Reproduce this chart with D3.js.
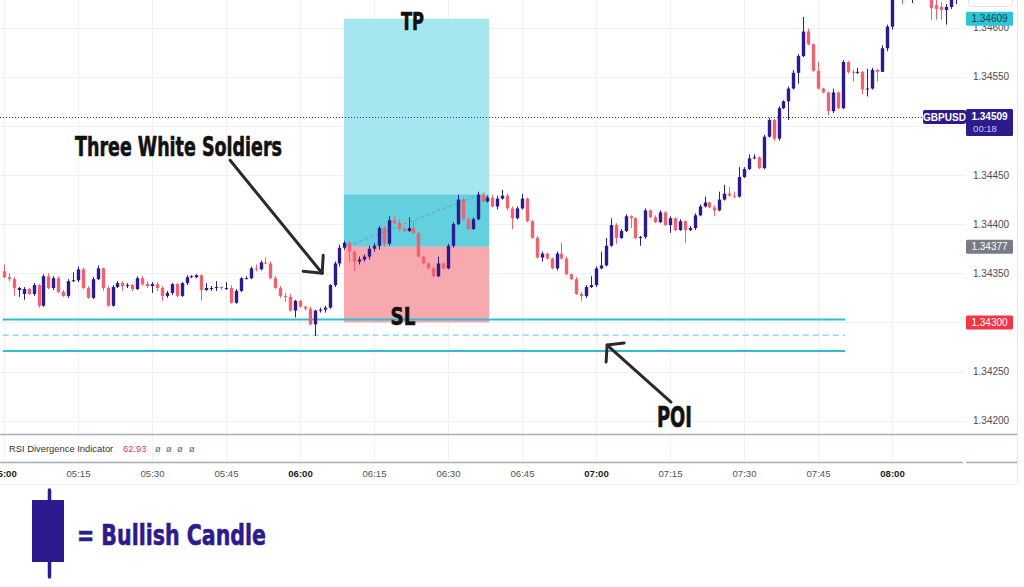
<!DOCTYPE html>
<html>
<head>
<meta charset="utf-8">
<script src="https://cdn.jsdelivr.net/npm/d3@7"></script>
<style>
  body { margin: 0; background: #fff; }
  svg { display: block; }
</style>
</head>
<body>
<div id="chart"></div>
<script>
// GBPUSD 1 minute candles, first one is 05:00  [open, high, low, close]
var firstCandle = "05:00:00";
var candles = [
  [1.34352,1.34359,1.34345,1.34346],[1.34346,1.34350,1.34342,1.34344],[1.34344,1.34346,1.34327,1.34335],[1.34333,1.34336,1.34326,1.34335],
  [1.34329,1.34336,1.34323,1.34334],[1.34334,1.34335,1.34328,1.34329],[1.34329,1.34340,1.34327,1.34338],[1.34338,1.34339,1.34315,1.34317],
  [1.34317,1.34349,1.34316,1.34347],[1.34347,1.34350,1.34334,1.34335],[1.34335,1.34347,1.34333,1.34345],[1.34345,1.34347,1.34330,1.34331],
  [1.34331,1.34333,1.34326,1.34327],[1.34327,1.34344,1.34325,1.34342],[1.34342,1.34351,1.34341,1.34343],[1.34343,1.34357,1.34341,1.34354],
  [1.34354,1.34356,1.34334,1.34335],[1.34335,1.34337,1.34324,1.34325],[1.34325,1.34346,1.34324,1.34344],[1.34344,1.34358,1.34343,1.34355],
  [1.34355,1.34356,1.34332,1.34335],[1.34335,1.34337,1.34316,1.34317],[1.34317,1.34338,1.34316,1.34336],[1.34336,1.34342,1.34335,1.34340],
  [1.34340,1.34342,1.34332,1.34337],[1.34337,1.34340,1.34335,1.34338],[1.34338,1.34339,1.34332,1.34334],[1.34334,1.34347,1.34333,1.34345],
  [1.34345,1.34347,1.34337,1.34339],[1.34339,1.34342,1.34335,1.34337],[1.34337,1.34341,1.34330,1.34339],[1.34339,1.34341,1.34332,1.34335],
  [1.34335,1.34337,1.34322,1.34327],[1.34327,1.34332,1.34325,1.34330],[1.34330,1.34340,1.34328,1.34339],[1.34339,1.34340,1.34326,1.34327],
  [1.34327,1.34341,1.34326,1.34340],[1.34340,1.34348,1.34338,1.34346],[1.34346,1.34348,1.34345,1.34347],[1.34346,1.34349,1.34345,1.34348],
  [1.34348,1.34349,1.34322,1.34333],[1.34333,1.34340,1.34332,1.34335],[1.34335,1.34337,1.34332,1.34335],[1.34335,1.34342,1.34332,1.34336],
  [1.34336,1.34337,1.34333,1.34335],[1.34335,1.34341,1.34333,1.34335],[1.34335,1.34338,1.34319,1.34320],[1.34320,1.34334,1.34319,1.34332],
  [1.34332,1.34346,1.34331,1.34345],[1.34345,1.34347,1.34344,1.34345],[1.34345,1.34357,1.34344,1.34355],[1.34355,1.34359,1.34352,1.34354],
  [1.34354,1.34363,1.34353,1.34361],[1.34361,1.34366,1.34359,1.34360],[1.34360,1.34362,1.34344,1.34345],[1.34345,1.34347,1.34334,1.34335],
  [1.34335,1.34337,1.34325,1.34327],[1.34327,1.34330,1.34321,1.34326],[1.34326,1.34329,1.34311,1.34312],[1.34312,1.34323,1.34305,1.34322],
  [1.34322,1.34323,1.34315,1.34316],[1.34316,1.34317,1.34312,1.34314],[1.34314,1.34316,1.34297,1.34298],[1.34298,1.34313,1.34286,1.34312],
  [1.34312,1.34315,1.34310,1.34313],[1.34313,1.34317,1.34310,1.34315],[1.34315,1.34339,1.34314,1.34338],[1.34338,1.34362,1.34336,1.34360],
  [1.34360,1.34379,1.34357,1.34376],[1.34376,1.34383,1.34374,1.34381],[1.34381,1.34383,1.34362,1.34372],[1.34372,1.34373,1.34352,1.34362],
  [1.34362,1.34367,1.34359,1.34364],[1.34364,1.34369,1.34362,1.34367],[1.34367,1.34378,1.34364,1.34375],[1.34375,1.34381,1.34372,1.34378],
  [1.34378,1.34398,1.34374,1.34396],[1.34396,1.34398,1.34377,1.34380],[1.34380,1.34408,1.34378,1.34404],[1.34404,1.34408,1.34400,1.34401],
  [1.34401,1.34405,1.34393,1.34395],[1.34395,1.34397,1.34392,1.34393],[1.34393,1.34407,1.34392,1.34396],[1.34396,1.34403,1.34390,1.34391],
  [1.34391,1.34392,1.34366,1.34367],[1.34367,1.34368,1.34359,1.34360],[1.34360,1.34361,1.34354,1.34355],[1.34355,1.34357,1.34346,1.34347],
  [1.34347,1.34367,1.34346,1.34360],[1.34360,1.34361,1.34354,1.34355],[1.34355,1.34380,1.34354,1.34378],[1.34378,1.34402,1.34376,1.34400],
  [1.34400,1.34430,1.34399,1.34425],[1.34425,1.34427,1.34404,1.34405],[1.34405,1.34406,1.34394,1.34395],[1.34395,1.34407,1.34394,1.34405],
  [1.34405,1.34433,1.34404,1.34430],[1.34430,1.34431,1.34422,1.34423],[1.34423,1.34429,1.34422,1.34427],[1.34427,1.34430,1.34417,1.34418],
  [1.34418,1.34429,1.34415,1.34426],[1.34426,1.34435,1.34425,1.34429],[1.34429,1.34431,1.34414,1.34416],[1.34416,1.34418,1.34395,1.34406],
  [1.34406,1.34418,1.34405,1.34416],[1.34416,1.34431,1.34415,1.34426],[1.34426,1.34427,1.34402,1.34403],[1.34403,1.34404,1.34385,1.34386],
  [1.34386,1.34388,1.34365,1.34366],[1.34366,1.34372,1.34362,1.34370],[1.34370,1.34371,1.34364,1.34365],[1.34365,1.34366,1.34354,1.34355],
  [1.34355,1.34372,1.34353,1.34370],[1.34370,1.34381,1.34364,1.34365],[1.34365,1.34367,1.34348,1.34349],[1.34349,1.34350,1.34343,1.34344],
  [1.34344,1.34346,1.34328,1.34329],[1.34329,1.34331,1.34322,1.34327],[1.34327,1.34338,1.34325,1.34336],[1.34336,1.34347,1.34335,1.34338],
  [1.34338,1.34357,1.34336,1.34355],[1.34355,1.34372,1.34354,1.34358],[1.34358,1.34386,1.34357,1.34378],[1.34378,1.34406,1.34377,1.34399],
  [1.34399,1.34401,1.34380,1.34386],[1.34386,1.34395,1.34385,1.34393],[1.34393,1.34410,1.34392,1.34408],[1.34408,1.34409,1.34396,1.34406],
  [1.34406,1.34407,1.34385,1.34386],[1.34386,1.34388,1.34378,1.34387],[1.34387,1.34416,1.34385,1.34414],[1.34414,1.34415,1.34406,1.34407],
  [1.34407,1.34409,1.34401,1.34402],[1.34402,1.34414,1.34401,1.34412],[1.34412,1.34413,1.34398,1.34399],[1.34399,1.34408,1.34391,1.34406],
  [1.34406,1.34407,1.34393,1.34394],[1.34394,1.34405,1.34393,1.34403],[1.34403,1.34404,1.34381,1.34394],[1.34394,1.34398,1.34393,1.34396],
  [1.34396,1.34411,1.34394,1.34409],[1.34409,1.34420,1.34408,1.34418],[1.34418,1.34428,1.34417,1.34422],[1.34422,1.34423,1.34416,1.34417],
  [1.34417,1.34419,1.34408,1.34414],[1.34414,1.34433,1.34413,1.34425],[1.34425,1.34440,1.34424,1.34431],[1.34431,1.34438,1.34428,1.34429],
  [1.34429,1.34433,1.34426,1.34428],[1.34428,1.34458,1.34427,1.34448],[1.34448,1.34458,1.34447,1.34456],[1.34456,1.34471,1.34455,1.34467],
  [1.34467,1.34471,1.34466,1.34468],[1.34468,1.34469,1.34456,1.34457],[1.34457,1.34491,1.34456,1.34489],[1.34489,1.34508,1.34488,1.34506],
  [1.34506,1.34507,1.34485,1.34487],[1.34487,1.34520,1.34485,1.34518],[1.34518,1.34526,1.34517,1.34525],[1.34525,1.34540,1.34506,1.34538],
  [1.34538,1.34557,1.34537,1.34554],[1.34554,1.34573,1.34543,1.34571],[1.34571,1.34611,1.34570,1.34596],[1.34596,1.34599,1.34582,1.34583],
  [1.34583,1.34584,1.34555,1.34556],[1.34556,1.34565,1.34537,1.34538],[1.34538,1.34539,1.34533,1.34534],[1.34534,1.34535,1.34511,1.34515],
  [1.34515,1.34538,1.34513,1.34534],[1.34534,1.34535,1.34517,1.34518],[1.34518,1.34567,1.34517,1.34565],[1.34565,1.34566,1.34553,1.34555],
  [1.34555,1.34557,1.34545,1.34554],[1.34554,1.34559,1.34553,1.34555],[1.34555,1.34556,1.34532,1.34537],[1.34537,1.34558,1.34530,1.34538],
  [1.34538,1.34559,1.34537,1.34557],[1.34557,1.34558,1.34545,1.34555],[1.34555,1.34582,1.34555,1.34579],[1.34579,1.34603,1.34576,1.34601],
  [1.34601,1.34640,1.34598,1.34632],[1.34632,1.34646,1.34629,1.34641],[1.34641,1.34650,1.34624,1.34636],[1.34636,1.34648,1.34630,1.34645],
  [1.34645,1.34655,1.34625,1.34650],[1.34650,1.34662,1.34640,1.34657],[1.34657,1.34664,1.34645,1.34648],[1.34648,1.34655,1.34632,1.34640],
  [1.34640,1.34645,1.34608,1.34620],[1.34623,1.34630,1.34608,1.34619],[1.34621,1.34626,1.34608,1.34618],[1.34618,1.34624,1.34603,1.34621],
  [1.34621,1.34640,1.34619,1.34632],[1.34632,1.34640,1.34624,1.34636]
];

var priceTicks = [1.342, 1.3425, 1.343, 1.3435, 1.344, 1.3445, 1.345, 1.3455, 1.346];
var timeFrom = "05:00:00", timeTo = "08:00:00";

// long position tool
var entryPrice = 1.34377, tpPrice = 1.34609, slPrice = 1.34300, reachedPrice = 1.3443;
var positionTimes = ["06:08:55", "06:38:20"];
var pathLine = [["06:09:45", 1.34378], ["06:37:30", 1.34432]];

// point of interest zone (upper, middle dashed, lower)
var poiLevels = [1.34303, 1.34287, 1.34271];
var poiTimes = ["04:59:45", "07:50:30"];

var lastPrice = 1.34509, countdown = "00:18", symbol = "GBPUSD";
var rsiName = "RSI Divergence Indicator", rsiValue = "62.93", rsiEmpty = ["\u00f8", "\u00f8", "\u00f8", "\u00f8"];

// arrows [tail, tip] in time / price
var soldiersArrow = [["05:45:50", 1.34465], ["06:04:30", 1.34350]];
var poiArrow = [["07:15:12", 1.34219], ["07:02:15", 1.34277]];

var bullColor = "#2d1b8e", bearColor = "#ef6371";
var annoFont = "'Liberation Sans Narrow','Arial Narrow','DejaVu Sans Condensed',sans-serif";
var axisFont = "'Liberation Sans',Arial,sans-serif";

var width = 1024, height = 587;
var plotRight = 965, paneBottom = 434, axisRight = 1017;

var svg = d3.select("#chart").append("svg")
    .attr("width", width)
    .attr("height", height);

var parseTime = d3.timeParse("%H:%M:%S");
var t0 = parseTime(firstCandle);

var x = d3.scaleTime()
    .domain([parseTime(timeFrom), parseTime(timeTo)])
    .range([4, 892]);

var y = d3.scaleLinear()
    .domain([1.342, 1.346])
    .range([420.7, 27.6]);

var bodyW = 3.4;

svg.append("defs").append("clipPath").attr("id", "plot-clip")
  .append("rect").attr("x", 0).attr("y", 0).attr("width", plotRight).attr("height", paneBottom);

// grid
var timeTicks = d3.timeMinute.every(15).range(parseTime(timeFrom), d3.timeMinute.offset(parseTime(timeTo), 1));

svg.append("g").selectAll("line")
  .data(priceTicks)
  .enter().append("line")
    .attr("x1", 0).attr("x2", plotRight)
    .attr("y1", function(d){ return Math.round(y(d)) + 0.5; })
    .attr("y2", function(d){ return Math.round(y(d)) + 0.5; })
    .attr("stroke", "#f0f1f3");

svg.append("g").selectAll("line")
  .data(timeTicks)
  .enter().append("line")
    .attr("x1", function(d){ return Math.round(x(d)) + 0.5; })
    .attr("x2", function(d){ return Math.round(x(d)) + 0.5; })
    .attr("y1", 0).attr("y2", 462)
    .attr("stroke", "#f0f1f3");

var plot = svg.append("g").attr("clip-path", "url(#plot-clip)");

// position box
var bx0 = x(parseTime(positionTimes[0])), bx1 = x(parseTime(positionTimes[1]));
plot.append("rect")
    .attr("x", bx0).attr("width", bx1 - bx0)
    .attr("y", y(tpPrice)).attr("height", y(entryPrice) - y(tpPrice))
    .attr("fill", "#a6e6ef");
plot.append("rect")
    .attr("x", bx0).attr("width", bx1 - bx0)
    .attr("y", y(reachedPrice)).attr("height", y(entryPrice) - y(reachedPrice))
    .attr("fill", "#62d0df");
plot.append("rect")
    .attr("x", bx0).attr("width", bx1 - bx0)
    .attr("y", y(entryPrice)).attr("height", y(slPrice) - y(entryPrice))
    .attr("fill", "#f8a9b0");

plot.append("line")
    .attr("x1", x(parseTime(pathLine[0][0]))).attr("y1", y(pathLine[0][1]))
    .attr("x2", x(parseTime(pathLine[1][0]))).attr("y2", y(pathLine[1][1]))
    .attr("stroke", "#7d8aa3").attr("stroke-width", 1)
    .attr("stroke-dasharray", "3,3").attr("opacity", 0.8);

// last price dotted line
plot.append("line")
    .attr("x1", 0).attr("x2", 923)
    .attr("y1", Math.round(y(lastPrice)) + 0.5).attr("y2", Math.round(y(lastPrice)) + 0.5)
    .attr("stroke", "#3a2a9c").attr("stroke-dasharray", "1,2");

// POI zone
plot.selectAll(".poi")
  .data(poiLevels)
  .enter().append("line")
    .attr("class", "poi")
    .attr("x1", x(parseTime(poiTimes[0]))).attr("x2", x(parseTime(poiTimes[1])))
    .attr("y1", function(d){ return y(d); })
    .attr("y2", function(d){ return y(d); })
    .attr("stroke", function(d, i){ return i == 1 ? "#7fd4df" : "#2fbfd0"; })
    .attr("stroke-width", function(d, i){ return i == 1 ? 1.3 : 2; })
    .attr("stroke-dasharray", function(d, i){ return i == 1 ? "6,4" : null; });

// candles
var candle = plot.append("g").selectAll("g")
  .data(candles)
  .enter().append("g")
    .attr("fill", function(d){ return d[3] >= d[0] ? bullColor : bearColor; })
    .attr("stroke", function(d){ return d[3] >= d[0] ? bullColor : bearColor; });

function cx(i) { return Math.round(x(d3.timeMinute.offset(t0, i))) + 0.5; }

candle.append("line")
    .attr("x1", function(d, i){ return cx(i); })
    .attr("x2", function(d, i){ return cx(i); })
    .attr("y1", function(d){ return y(d[1]); })
    .attr("y2", function(d){ return y(d[2]); })
    .attr("stroke-width", 1);

candle.append("rect")
    .attr("stroke", "none")
    .attr("x", function(d, i){ return cx(i) - bodyW / 2; })
    .attr("width", bodyW)
    .attr("y", function(d){ return y(Math.max(d[0], d[3])); })
    .attr("height", function(d){ return Math.max(1, Math.abs(y(d[0]) - y(d[3]))); });

// pane separators and frame
svg.append("line").attr("x1", 0).attr("x2", axisRight).attr("y1", 434.5).attr("y2", 434.5)
    .attr("stroke", "#a9acb3").attr("stroke-width", 1.5);
svg.append("line").attr("x1", 0).attr("x2", 963).attr("y1", 462.5).attr("y2", 462.5)
    .attr("stroke", "#a9acb3").attr("stroke-width", 1.5);
svg.append("line").attr("x1", 966).attr("x2", axisRight).attr("y1", 462.5).attr("y2", 462.5)
    .attr("stroke", "#a9acb3").attr("stroke-width", 1.5);
svg.append("line").attr("x1", 0).attr("x2", axisRight).attr("y1", 484.5).attr("y2", 484.5)
    .attr("stroke", "#eeeff1");
svg.append("line").attr("x1", axisRight + 0.5).attr("x2", axisRight + 0.5).attr("y1", 0).attr("y2", 484)
    .attr("stroke", "#e6e7ea");

// price axis (levels hidden under the price tags get no label)
var taggedLevels = [slPrice, 1.345];
var yAxis = svg.append("g")
    .attr("transform", "translate(966,0)")
    .call(d3.axisRight(y)
      .tickValues(priceTicks.filter(function(d){ return taggedLevels.indexOf(d) < 0; }))
      .tickSize(0).tickPadding(7).tickFormat(d3.format(".5f")));
yAxis.select(".domain").remove();
yAxis.selectAll("text")
    .attr("fill", "#4d4d4d")
    .style("font-family", axisFont)
    .style("font-size", "10px");

// time axis
var xAxis = svg.append("g")
    .attr("transform", "translate(0,467)")
    .call(d3.axisBottom(x).tickValues(timeTicks).tickSize(0).tickPadding(3).tickFormat(d3.timeFormat("%H:%M")));
xAxis.select(".domain").remove();
xAxis.selectAll("text")
    .attr("fill", function(d){ return d.getMinutes() == 0 ? "#222" : "#555"; })
    .style("font-weight", function(d){ return d.getMinutes() == 0 ? "bold" : "normal"; })
    .style("font-family", axisFont)
    .style("font-size", "9.6px");

// price labels on the axis
function priceTag(price, fill, color, text) {
  var cy = y(price);
  svg.append("rect").attr("x", 966).attr("y", cy - 7).attr("width", 47).attr("height", 14)
      .attr("rx", 1.5).attr("fill", fill);
  svg.append("text").attr("x", 989.5).attr("y", cy).attr("dy", "0.35em")
      .attr("text-anchor", "middle").attr("fill", color)
      .style("font-family", axisFont).style("font-size", "10px")
      .text(text);
}
svg.append("rect").attr("x", 968.5).attr("y", -6).attr("width", 44).attr("height", 12.5)
    .attr("rx", 3).attr("fill", "none").attr("stroke", "#e3e4e7");
priceTag(tpPrice, "#2cc5d8", "#163f46", d3.format(".5f")(tpPrice));
priceTag(entryPrice, "#787b86", "#fff", d3.format(".5f")(entryPrice));
priceTag(slPrice, "#f23645", "#fff", d3.format(".5f")(slPrice));

var ly = y(lastPrice);
svg.append("rect").attr("x", 923).attr("y", ly - 7).attr("width", 43).attr("height", 14)
    .attr("rx", 2).attr("fill", bullColor);
svg.append("text").attr("x", 944.5).attr("y", ly).attr("dy", "0.35em")
    .attr("text-anchor", "middle").attr("fill", "#fff")
    .style("font-family", axisFont).style("font-size", "10px").style("font-weight", "bold")
    .text(symbol);
svg.append("rect").attr("x", 966).attr("y", ly - 8).attr("width", 47).attr("height", 27)
    .attr("rx", 1.5).attr("fill", bullColor);
svg.append("text").attr("x", 989.5).attr("y", ly - 0.5).attr("dy", "0.35em")
    .attr("text-anchor", "middle").attr("fill", "#fff")
    .style("font-family", axisFont).style("font-size", "10px").style("font-weight", "bold")
    .text(d3.format(".5f")(lastPrice));
svg.append("text").attr("x", 985).attr("y", ly + 12).attr("dy", "0.35em")
    .attr("text-anchor", "middle").attr("fill", "#cfc8f2")
    .style("font-family", axisFont).style("font-size", "9.5px")
    .text(countdown);

// RSI pane legend
var rsi = svg.append("text").attr("x", 9).attr("y", 452)
    .style("font-family", axisFont).style("font-size", "9.4px").attr("fill", "#333");
rsi.append("tspan").text(rsiName);
rsi.append("tspan").attr("x", 123).attr("fill", "#f23645").text(rsiValue);
rsi.append("tspan").attr("x", "155 166 177 189").attr("fill", "#666").text(rsiEmpty.join(""));

// annotations
function arrow(pts, wings) {
  var tail = [x(parseTime(pts[0][0])), y(pts[0][1])];
  var tip = [x(parseTime(pts[1][0])), y(pts[1][1])];
  var g = svg.append("g").attr("stroke", "#2b2b2b").attr("stroke-width", 3)
      .attr("stroke-linecap", "round").attr("fill", "none");
  g.append("line").attr("x1", tail[0]).attr("y1", tail[1]).attr("x2", tip[0]).attr("y2", tip[1]);
  g.append("path").attr("stroke-linejoin", "round")
      .attr("d", d3.line()([[tip[0] + wings[0][0], tip[1] + wings[0][1]], tip, [tip[0] + wings[1][0], tip[1] + wings[1][1]]]));
}
arrow(soldiersArrow, [[-19, -2], [1, -18]]);
arrow(poiArrow, [[17, -2], [-1, 17]]);

function label(text, px, py, size, len, anchor, color) {
  svg.append("text").attr("x", px).attr("y", py)
      .attr("text-anchor", anchor || "start")
      .attr("textLength", len).attr("lengthAdjust", "spacingAndGlyphs")
      .attr("fill", color || "#111")
      .attr("stroke", color || "#111").attr("stroke-width", 0.6)
      .style("font-family", annoFont).style("font-weight", "bold").style("font-size", size + "px")
      .text(text);
}
label("Three White Soldiers", 75, 156, 26, 207);
label("TP", 412.5, 30, 24, 23, "middle");
label("SL", 403, 325, 24, 25, "middle");
label("POI", 674.5, 427, 29, 35, "middle");

// legend: bullish candle
var lg = svg.append("g");
lg.append("line").attr("x1", 49.5).attr("x2", 49.5).attr("y1", 490).attr("y2", 577)
    .attr("stroke", bullColor).attr("stroke-width", 3.5).attr("stroke-linecap", "round");
lg.append("rect").attr("x", 32).attr("y", 500).attr("width", 32).attr("height", 62).attr("fill", bullColor);
label("= Bullish Candle", 77, 545, 29, 189, "start", bullColor);
</script>
</body>
</html>
